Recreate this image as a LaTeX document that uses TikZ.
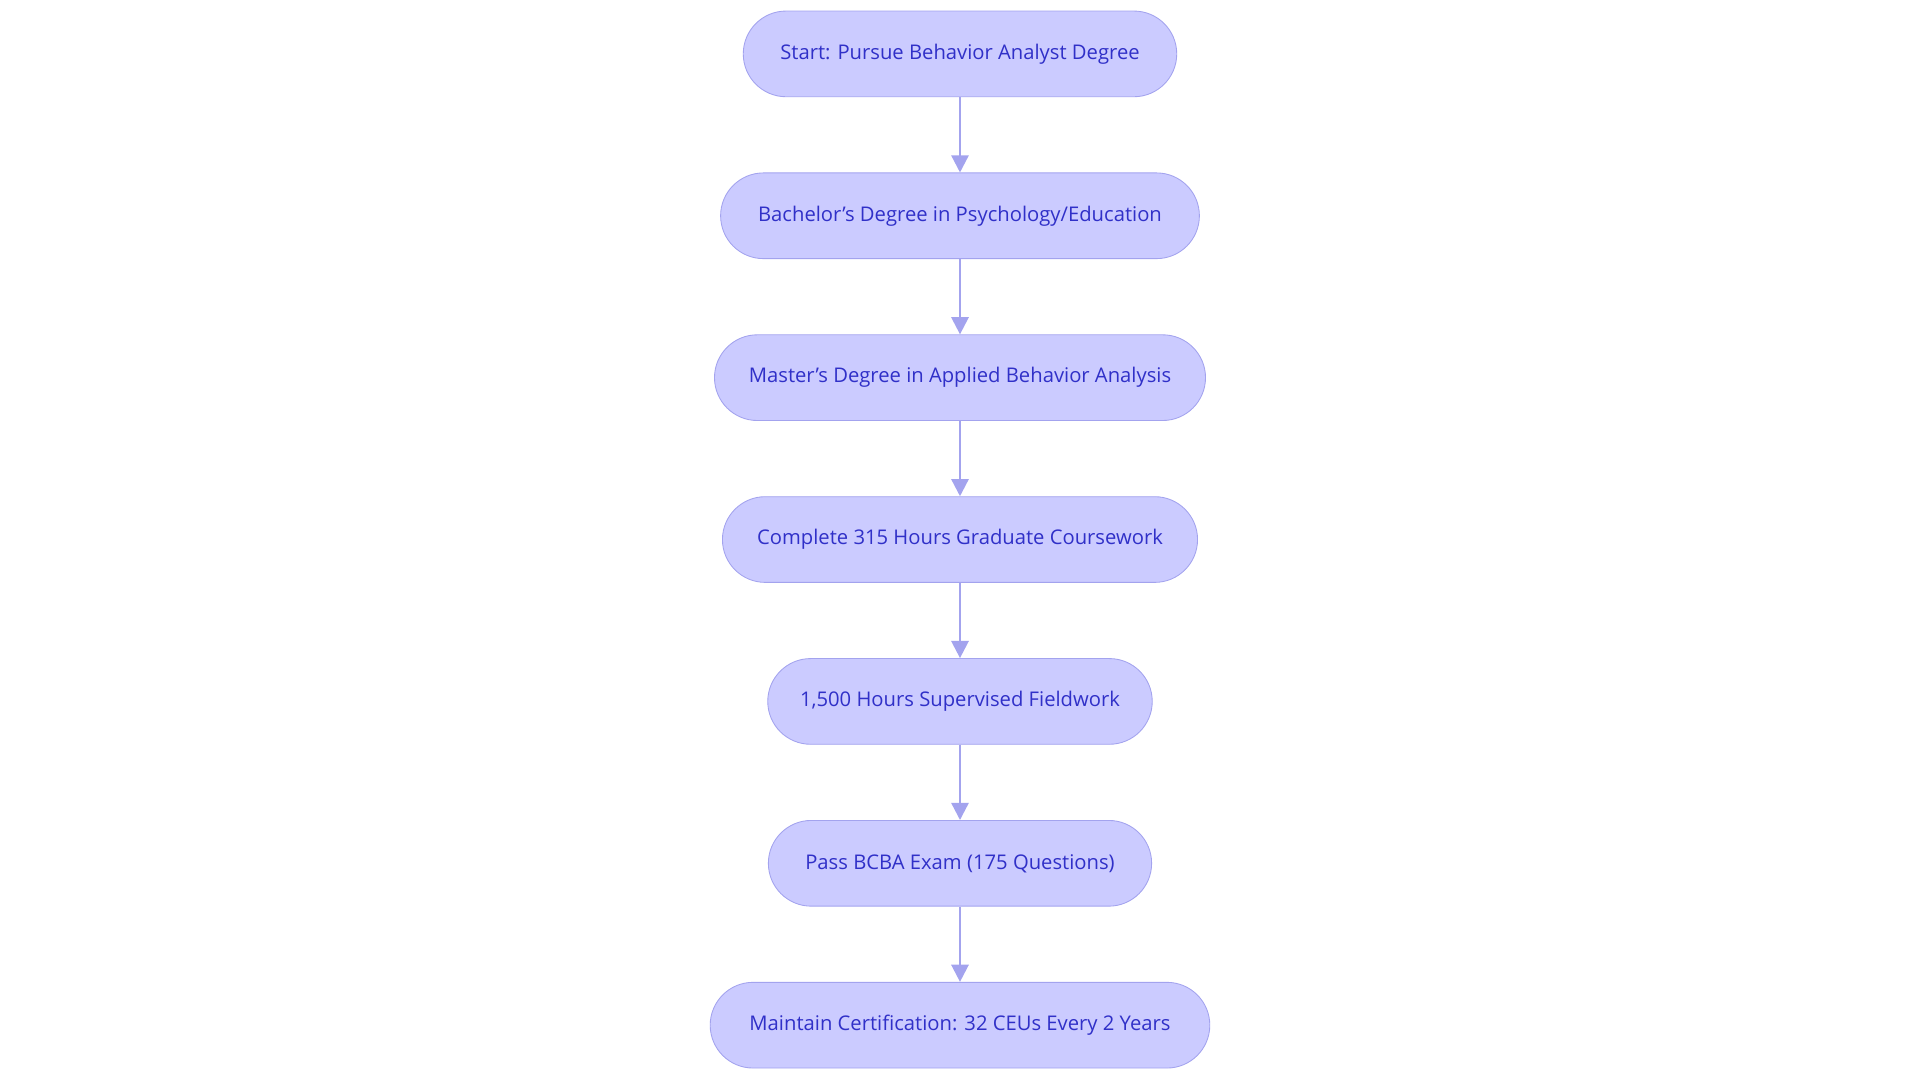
\documentclass[tikz,border=0pt]{standalone}
\usepackage{fontspec}
\setmainfont{Open Sans}
\usetikzlibrary{positioning, arrows.meta}
\definecolor{stepfill}{HTML}{CBCBFF}
\definecolor{stepline}{HTML}{A3A3EE}
\definecolor{steptext}{HTML}{3030C8}
\tikzstyle{item} = [rectangle, rounded corners=0.7cm, minimum height=1.4cm, text centered, draw=stepline, fill=stepfill, text=steptext, font=\fontsize{9.4}{11}\selectfont]
\tikzstyle{arrow} = [line width=1.1pt, draw=stepline, -{Triangle[length=8pt,width=8pt]}]

\begin{document}
\begin{tikzpicture}[node distance=1.23cm]
\useasboundingbox (-15.68,0.88) rectangle (15.68,-16.8);
\node(start)[item, minimum width=7.08cm]{Start: Pursue Behavior Analyst Degree};
\node(bach)[item, below=of start, minimum width=7.82cm]{Bachelor's Degree in Psychology/Education};
\node(mast)[item, below=of bach, minimum width=8.02cm]{Master's Degree in Applied Behavior Analysis};
\node(course)[item, below=of mast, minimum width=7.76cm]{Complete 315 Hours Graduate Coursework};
\node(field)[item, below=of course, minimum width=6.28cm]{1,500 Hours Supervised Fieldwork};
\node(exam)[item, below=of field, minimum width=6.26cm]{Pass BCBA Exam (175 Questions)};
\node(maint)[item, below=of exam, minimum width=8.16cm]{Maintain Certification: 32 CEUs Every 2 Years};
\draw[arrow] (start) -- (bach);
\draw[arrow] (bach) -- (mast);
\draw[arrow] (mast) -- (course);
\draw[arrow] (course) -- (field);
\draw[arrow] (field) -- (exam);
\draw[arrow] (exam) -- (maint);

\end{tikzpicture}
\end{document}
